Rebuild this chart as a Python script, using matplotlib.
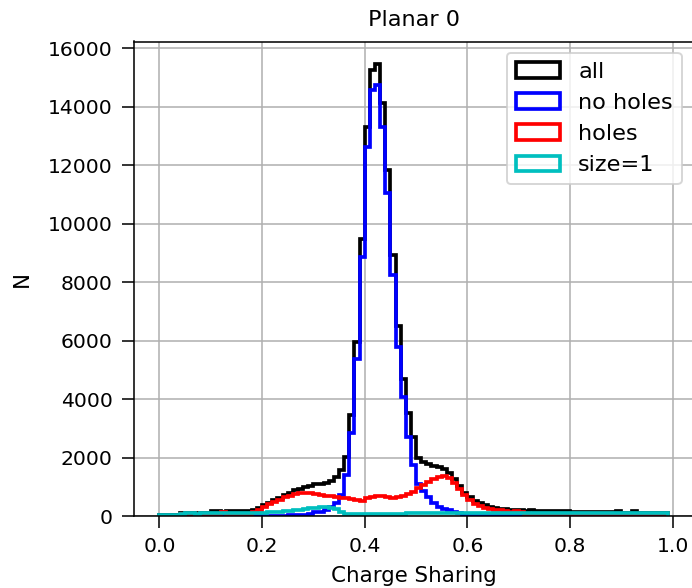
"""
Planar 0 charge-sharing histogram (all / no holes / holes / size=1).
"""
import matplotlib
matplotlib.use("Agg")
import matplotlib.pyplot as plt
import numpy as np

plt.rcParams.update({
    "font.size": 11,
    "axes.titlesize": 11.5,
    "axes.labelsize": 11,
    "xtick.labelsize": 10.5,
    "ytick.labelsize": 10.5,
    "xtick.major.size": 6,
    "ytick.major.size": 6,
    "xtick.major.pad": 5,
    "ytick.major.pad": 5,
    "legend.fontsize": 11.5,
})

# bin left edges: 0.00 ... 0.98, width 0.01 (99 bins, last edge 0.99)
bin_edges = [round(0.01 * i, 2) for i in range(100)]

counts_all = [
    20, 20, 20, 20, 90, 90, 90, 90, 90, 90,
    180, 170, 120, 170, 180, 170, 170, 180, 220, 280,
    376, 460, 547, 630, 718, 800, 880, 940, 990, 1030,
    1080, 1110, 1140, 1200, 1330, 1570, 2030, 3450, 5960, 9460,
    13290, 15250, 15450, 14110, 11830, 8920, 6500, 4700, 3520, 2710,
    2000, 1850, 1780, 1720, 1660, 1600, 1480, 1280, 1020, 800,
    640, 520, 440, 370, 320, 280, 250, 230, 210, 200,
    190, 180, 190, 170, 180, 170, 160, 170, 160, 170,
    150, 130, 140, 130, 120, 130, 120, 130, 120, 160,
    110, 100, 160, 100, 100, 100, 90, 100, 90,
]

counts_no_holes = [
    0, 0, 0, 0, 0, 0, 0, 0, 0, 0,
    0, 0, 0, 0, 0, 0, 0, 0, 0, 0,
    0, 0, 0, 0, 0, 20, 30, 40, 50, 80,
    120, 150, 200, 300, 450, 720, 1400, 2830, 5360, 8870,
    12630, 14560, 14740, 13310, 11050, 8240, 5770, 4060, 2710, 1740,
    1100, 850, 650, 450, 320, 250, 200, 150, 100, 50,
    0, 0, 0, 0, 0, 0, 0, 0, 0, 0,
    0, 0, 0, 0, 0, 0, 0, 0, 0, 0,
    0, 0, 0, 0, 0, 0, 0, 0, 0, 0,
    0, 0, 0, 0, 0, 0, 0, 0, 0,
]

counts_holes = [
    10, 10, 10, 10, 60, 60, 60, 60, 60, 60,
    80, 80, 120, 80, 80, 80, 80, 80, 150, 220,
    320, 400, 480, 560, 640, 700, 740, 775, 790, 775,
    740, 720, 700, 680, 650, 620, 610, 580, 540, 520,
    600, 660, 680, 700, 650, 620, 640, 680, 750, 820,
    950, 1050, 1150, 1250, 1330, 1370, 1300, 1130, 920, 720,
    550, 420, 350, 290, 250, 220, 200, 160, 130, 170,
    150, 80, 80, 80, 80, 80, 80, 80, 80, 80,
    80, 80, 80, 80, 80, 80, 80, 80, 80, 80,
    80, 80, 80, 80, 80, 80, 80, 80, 80,
]

counts_size1 = [
    20, 20, 20, 20, 80, 90, 90, 80, 90, 90,
    100, 90, 90, 100, 90, 100, 100, 90, 100, 100,
    110, 120, 130, 150, 160, 170, 200, 220, 250, 270,
    290, 300, 300, 290, 230, 150, 70, 70, 60, 60,
    60, 60, 70, 70, 60, 70, 70, 80, 100, 110,
    110, 110, 110, 110, 100, 110, 110, 100, 100, 90,
    90, 90, 90, 90, 90, 90, 90, 90, 90, 90,
    90, 90, 90, 90, 90, 90, 90, 90, 90, 90,
    90, 90, 90, 90, 90, 90, 90, 90, 90, 90,
    90, 90, 90, 90, 90, 90, 90, 90, 90,
]

series = [
    ("all", counts_all, "k"),
    ("no holes", counts_no_holes, "b"),
    ("holes", counts_holes, "r"),
    ("size=1", counts_size1, "c"),
]


def main():
    fig = plt.figure(figsize=(692 / 140, 588 / 140), dpi=140)
    # axes run slightly past the right edge, as in the (cropped) original
    ax = fig.add_axes([134 / 692, 72 / 588, 559 / 692, 474.5 / 588])

    edges = np.array(bin_edges)
    for label, counts, color in series:
        ax.hist(edges[:-1], bins=edges, weights=counts, histtype="step",
                color=color, label=label, linewidth=1.9)

    ax.set_title("Planar 0", pad=8)
    ax.set_xlabel("Charge Sharing", labelpad=5)
    ax.set_ylabel("N", labelpad=8)
    ax.grid(True)
    ax.legend(loc="upper right")

    fig.savefig("out.png", dpi=140)
    plt.close(fig)


if __name__ == "__main__":
    main()
